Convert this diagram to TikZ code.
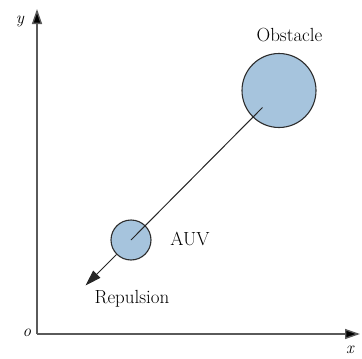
\documentclass[tikz,border=0pt]{standalone}
\usetikzlibrary{arrows.meta}
\definecolor{blobfill}{RGB}{166,196,221}
\definecolor{blobedge}{RGB}{45,45,45}
\definecolor{axisgray}{RGB}{90,90,90}
\tikzset{
  blob/.style={circle,draw=blobedge,fill=blobfill,line width=1.1pt,inner sep=0pt},
  axisline/.style={draw=axisgray,line width=1.4pt,-{Triangle[length=15pt,width=10pt,fill=black]}},
  lbl/.style={font=\fontsize{19}{22}\selectfont,inner sep=0pt},
  axlbl/.style={font=\fontsize{17}{20}\selectfont\itshape,inner sep=0pt},
  force/.style={draw=black!85,line width=1pt}
}
\begin{document}
\begin{tikzpicture}[x=1pt,y=-1pt]
\useasboundingbox (0,0) rectangle (362,359);
\coordinate (O) at (37,334);
\coordinate (ytip) at (37,9);
\coordinate (xtip) at (360,334);
\draw[axisline] (O) -- (ytip);
\draw[axisline] (O) -- (xtip);
\node[axlbl] (ylab) at (20,21) {y};
\node[axlbl] (xlab) at (350,350) {x};
\node[axlbl] (olab) at (27,333) {o};
\node[blob,minimum size=74pt] (obs) at (279,90.5) {};
\node[blob,minimum size=40pt] (auv) at (131,240) {};
\coordinate (s) at (262.5,107.5);
\coordinate (r) at (85.5,285.5);
\draw[force] (s) -- (auv.center);
\draw[force,-{Triangle[length=16pt,width=10pt]}] (auv.south west) -- (r);
\node[lbl] (obslab) at (289.5,35) {Obstacle};
\node[lbl] (auvlab) at (190,239) {AUV};
\node[lbl] (replab) at (132,299) {Repulsion};
\end{tikzpicture}
\end{document}
